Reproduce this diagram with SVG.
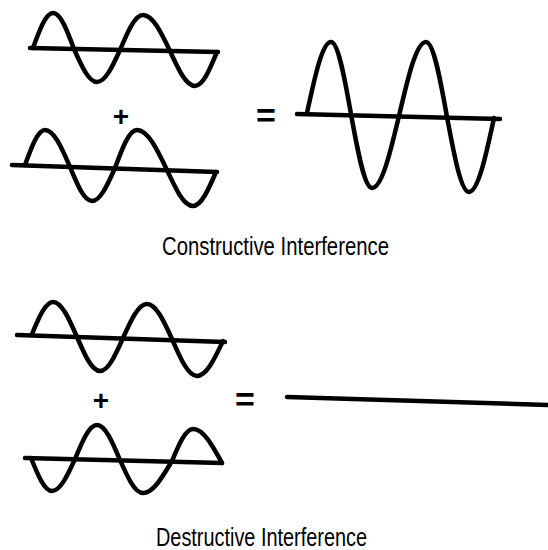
<svg xmlns="http://www.w3.org/2000/svg" width="548" height="550" viewBox="0 0 548 550">
<style>
.w{fill:none;stroke:#000;stroke-width:4.5;stroke-linecap:round;stroke-linejoin:round}
.ax{fill:none;stroke:#000;stroke-width:4.5;stroke-linecap:round}
.op{font-family:"Liberation Sans",Arial,sans-serif;font-weight:bold;fill:#000;text-anchor:middle}
.cap{font-family:"Liberation Sans",Arial,sans-serif;font-size:25px;fill:#000}
</style>
<rect width="548" height="550" fill="#fff"/>
<g id="constructive-wave-1">
<line class="ax" x1="30" y1="48" x2="218" y2="52"/>
<path class="w" d="M33,48 C39.5,30.1 45.8,13 53,13 C60.6,13 67.2,30.6 74,49 C81.5,65.9 88.7,82 97,82 C105.3,82 112.5,66.4 120,50 C127.5,32.1 134.7,15 143,15 C152.8,15 161.2,32.6 170,51 C178.2,68.9 186,86 195,86 C203,86 209.8,69.4 217,52"/>
</g>
<g id="constructive-wave-2">
<line class="ax" x1="12" y1="165" x2="217" y2="172"/>
<path class="w" d="M25,165 C31.5,147.1 37.8,130 45,130 C54,130 61.9,148.1 70,167 C77.2,184.4 84,201 92,201 C100.3,201 107.5,184.9 115,168 C122.2,148.5 129,130 137,130 C147.9,130 157.2,149.5 167,170 C175.5,188.4 183.6,206 193,206 C201.3,206 208.5,189.4 216,172"/>
</g>
<g id="constructive-plus"><text class="op" x="121" y="125.5" font-size="28">+</text></g>
<g id="constructive-equals"><text class="op" x="266" y="127" font-size="34">=</text></g>
<g id="constructive-result">
<line class="ax" x1="297" y1="114" x2="500" y2="119"/>
<path class="w" d="M307,113 C314.8,76.6 322.3,42 331,42 C338.2,42 344.5,77.1 351,114 C357.8,151.9 364.4,188 372,188 C381.8,188 390.2,152.9 399,116 C407.8,78.1 416.2,42 426,42 C433.6,42 440.2,78.6 447,117 C454.2,155.4 461,192 469,192 C478,192 485.9,155.9 494,118"/>
</g>
<g id="constructive-label"><text class="cap" x="162" y="255" textLength="227" lengthAdjust="spacingAndGlyphs">Constructive Interference</text></g>
<g id="destructive-wave-1">
<line class="ax" x1="17" y1="335" x2="225" y2="342"/>
<path class="w" d="M32,334 C38.8,317.6 45.4,302 53,302 C61.7,302 69.2,319.1 77,337 C84.5,354.4 91.7,371 100,371 C108.3,371 115.5,354.9 123,338 C130.8,320.6 138.3,304 147,304 C156,304 163.9,321.1 172,339 C180.2,357.9 188,376 197,376 C206.4,376 214.5,358.9 223,341"/>
</g>
<g id="destructive-wave-2">
<line class="ax" x1="25" y1="458" x2="222" y2="463"/>
<path class="w" d="M31,458 C37.8,474.9 44.4,491 52,491 C60.3,491 67.5,475.4 75,459 C82.2,441.6 89,425 97,425 C105.3,425 112.5,442.1 120,460 C127.5,476.9 134.7,493 143,493 C153.5,493 162.5,476.6 172,461 C178.8,444.6 185.4,429 193,429 C203.5,429 212.5,445.6 222,463"/>
</g>
<g id="destructive-plus"><text class="op" x="101" y="409.5" font-size="28">+</text></g>
<g id="destructive-equals"><text class="op" x="245" y="411" font-size="34">=</text></g>
<g id="destructive-result">
<line class="ax" x1="287" y1="397" x2="548" y2="405"/>
</g>
<g id="destructive-label"><text class="cap" x="156" y="546" textLength="211" lengthAdjust="spacingAndGlyphs">Destructive Interference</text></g>
</svg>
